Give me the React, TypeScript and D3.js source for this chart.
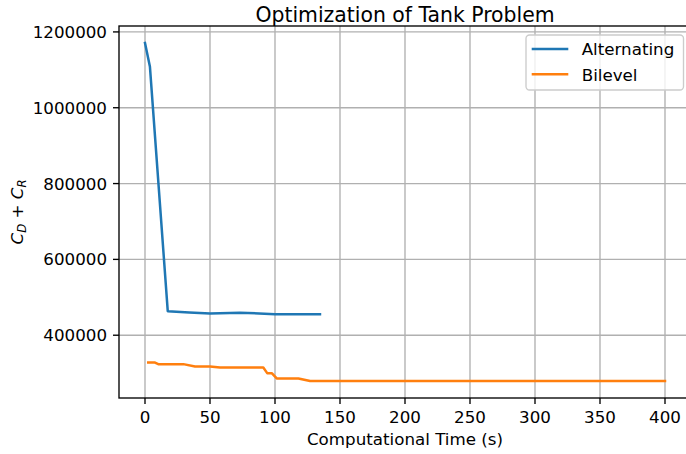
import { useEffect, useRef } from 'react';
import * as d3 from 'd3';

const altTime = [0, 3.8, 17.5, 34, 50, 73, 100, 134.6];
const altCost = [1171000, 1108000, 463500, 460000, 457000, 459500, 455500, 455300];

const bilTime = [2.5, 7.7, 10.2, 29.5, 38.5, 50, 57.7, 91, 94, 97.5, 101.3, 118, 127, 400];
const bilCost = [
  328000, 328000, 323700, 323700, 317600, 317600, 315000, 315000, 300000, 300000, 286000, 286000,
  279000, 279000,
];

const xTicks = [0, 50, 100, 150, 200, 250, 300, 350, 400];
const yTicks = [400000, 600000, 800000, 1000000, 1200000];
const seriesNames = ['Alternating', 'Bilevel'];
const colors = ['#1f77b4', '#ff7f0e'];

const FONT = 'DejaVu Sans';
const FS = 16.7;

const App = () => {
  const svgRef = useRef(null);

  useEffect(() => {
    const svg = d3.select(svgRef.current).attr('width', 686).attr('height', 454);
    svg.selectAll('*').remove();

    const left = 119;
    const right = 691;
    const top = 26;
    const bottom = 398;

    const allT = altTime.concat(bilTime);
    const allC = altCost.concat(bilCost);
    const tMin = d3.min(allT), tMax = d3.max(allT);
    const cMin = d3.min(allC), cMax = d3.max(allC);
    const tPad = (tMax - tMin) * 0.05;
    const cPad = (cMax - cMin) * 0.05;

    const x = d3.scaleLinear().domain([0 - 20, 400 + 20]).range([left, right]);
    const y = d3.scaleLinear().domain([cMin - cPad, cMax + cPad]).range([bottom, top]);
    void tPad;

    const g = svg.append('g').attr('font-family', FONT);

    // grid
    g.selectAll('.gx')
      .data(xTicks)
      .enter()
      .append('line')
      .attr('x1', (d) => x(d))
      .attr('x2', (d) => x(d))
      .attr('y1', top)
      .attr('y2', bottom)
      .attr('stroke', '#b0b0b0')
      .attr('stroke-width', 1.35);
    g.selectAll('.gy')
      .data(yTicks)
      .enter()
      .append('line')
      .attr('x1', left)
      .attr('x2', right)
      .attr('y1', (d) => y(d))
      .attr('y2', (d) => y(d))
      .attr('stroke', '#b0b0b0')
      .attr('stroke-width', 1.35);

    // series
    const line = d3
      .line()
      .x((d) => x(d[0]))
      .y((d) => y(d[1]));
    const series = [
      altTime.map((t, i) => [t, altCost[i]]),
      bilTime.map((t, i) => [t, bilCost[i]]),
    ];
    series.forEach((pts, i) => {
      g.append('path')
        .attr('d', line(pts))
        .attr('fill', 'none')
        .attr('stroke', colors[i])
        .attr('stroke-width', 2.5)
        .attr('stroke-linejoin', 'round')
        .attr('stroke-linecap', 'square');
    });

    // spines
    g.append('rect')
      .attr('x', left)
      .attr('y', top)
      .attr('width', right - left)
      .attr('height', bottom - top)
      .attr('fill', 'none')
      .attr('stroke', '#000')
      .attr('stroke-width', 1.35);

    // x ticks
    xTicks.forEach((t) => {
      g.append('line')
        .attr('x1', x(t))
        .attr('x2', x(t))
        .attr('y1', bottom)
        .attr('y2', bottom + 6)
        .attr('stroke', '#000')
        .attr('stroke-width', 1.35);
      g.append('text')
        .attr('x', x(t))
        .attr('y', bottom + 25.3)
        .attr('text-anchor', 'middle')
        .attr('font-size', FS)
        .text(t);
    });

    // y ticks
    yTicks.forEach((t) => {
      g.append('line')
        .attr('x1', left - 6)
        .attr('x2', left)
        .attr('y1', y(t))
        .attr('y2', y(t))
        .attr('stroke', '#000')
        .attr('stroke-width', 1.35);
      g.append('text')
        .attr('x', left - 12)
        .attr('y', y(t) + 6)
        .attr('text-anchor', 'end')
        .attr('font-size', FS)
        .text(t);
    });

    // title + axis labels
    g.append('text')
      .attr('x', (left + right) / 2)
      .attr('y', 21.5)
      .attr('text-anchor', 'middle')
      .attr('font-size', 20.4)
      .text('Optimization of Tank Problem');

    g.append('text')
      .attr('x', (left + right) / 2)
      .attr('y', 445)
      .attr('text-anchor', 'middle')
      .attr('font-size', FS)
      .text('Computational Time (s)');

    const yl = g
      .append('text')
      .attr('transform', `translate(23.3,${(top + bottom) / 2}) rotate(-90)`)
      .attr('text-anchor', 'middle')
      .attr('font-size', FS);
    yl.append('tspan').attr('font-style', 'italic').text('C');
    yl.append('tspan').attr('font-style', 'italic').attr('font-size', FS * 0.7).attr('dy', 3).text('D');
    yl.append('tspan').attr('dy', -3).text(' + ');
    yl.append('tspan').attr('font-style', 'italic').text('C');
    yl.append('tspan').attr('font-style', 'italic').attr('font-size', FS * 0.7).attr('dy', 3).text('R');

    // legend
    const lg = g.append('g');
    lg.append('rect')
      .attr('x', 526)
      .attr('y', 35)
      .attr('width', 157.5)
      .attr('height', 55)
      .attr('rx', 3.5)
      .attr('fill', 'white')
      .attr('fill-opacity', 0.8)
      .attr('stroke', '#cccccc')
      .attr('stroke-width', 1.35);
    seriesNames.forEach((name, i) => {
      const ly = 49 + i * 25.3;
      lg.append('line')
        .attr('x1', 531.7)
        .attr('x2', 568.3)
        .attr('y1', ly)
        .attr('y2', ly)
        .attr('stroke', colors[i])
        .attr('stroke-width', 2.5);
      lg.append('text')
        .attr('x', 581.7)
        .attr('y', ly + 6.3)
        .attr('font-size', FS)
        .text(name);
    });
  }, []);

  return <svg ref={svgRef} style={{ position: 'absolute', left: 0, top: 0 }}></svg>;
};

export default App;
